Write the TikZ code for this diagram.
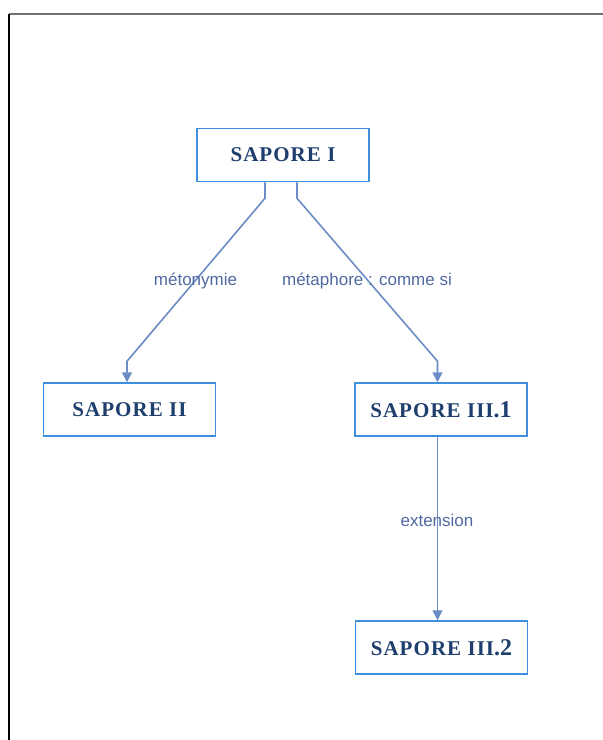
\documentclass[tikz,border=0pt]{standalone}
\usepackage{fontspec}
\setmainfont{Liberation Serif}
\newfontfamily\labelfont{Liberation Sans}
\newfontfamily\stagefont[LetterSpace=5]{Liberation Serif}
\usetikzlibrary{arrows.meta}

\definecolor{boxline}{HTML}{3F8FDF}
\definecolor{boxtext}{HTML}{1E3F6E}
\definecolor{linkline}{HTML}{6B8CC4}
\definecolor{linktext}{HTML}{5069A0}
\definecolor{frametop}{HTML}{707070}

\newcommand{\sap}[2]{{\stagefont\fontsize{21}{24}\selectfont\bfseries #1}{\fontsize{24}{26}\selectfont\bfseries #2}}

\tikzset{
  stage/.style={draw=boxline, line width=1.5pt, text=boxtext, fill=white,
    minimum width=172pt, minimum height=53pt, inner sep=0pt},
  link/.style={draw=linkline, line width=1.6pt,
    -{Triangle[length=10pt,width=10pt]}},
  linklabel/.style={text=linktext, font=\labelfont\fontsize{17}{19}\selectfont, inner sep=0pt}
}

\begin{document}
\begin{tikzpicture}[x=1pt,y=-1pt]
\useasboundingbox (0,0) rectangle (603,740);
% page frame
\draw[frametop, line width=1.3pt] (9,14) -- (603,14);
\draw[black, line width=1.3pt] (9,14) -- (9,740);

% stages
\node[stage] (s1) at (283,155) {\sap{SAPORE I}{}};
\node[stage] (s2) at (129.5,409.5) {\sap{SAPORE II}{}};
\node[stage] (s3) at (441,409.5) {\sap{SAPORE III}{.1}};
\node[stage] (s4) at (441.5,647.5) {\sap{SAPORE III}{.2}};

% connectors
\draw[link] ([xshift=-18pt]s1.south) -- ++(0,16)
  -- ([xshift=-2.5pt,yshift=21pt]s2.north) -- ([xshift=-2.5pt]s2.north);
\draw[link] ([xshift=14pt]s1.south) -- ++(0,16)
  -- ([xshift=-3.5pt,yshift=21pt]s3.north) -- ([xshift=-3.5pt]s3.north);
\draw[link] ([xshift=-3.5pt]s3.south) -- ([xshift=-3.5pt]s3.south |- s4.north);

% link labels
\node[linklabel] (l1) at (195.5,281) {métonymie};
\node[linklabel] (l2) at (367,281) {métaphore : comme si};
\node[linklabel] (l3) at (437,520) {extension};
\end{tikzpicture}
\end{document}
